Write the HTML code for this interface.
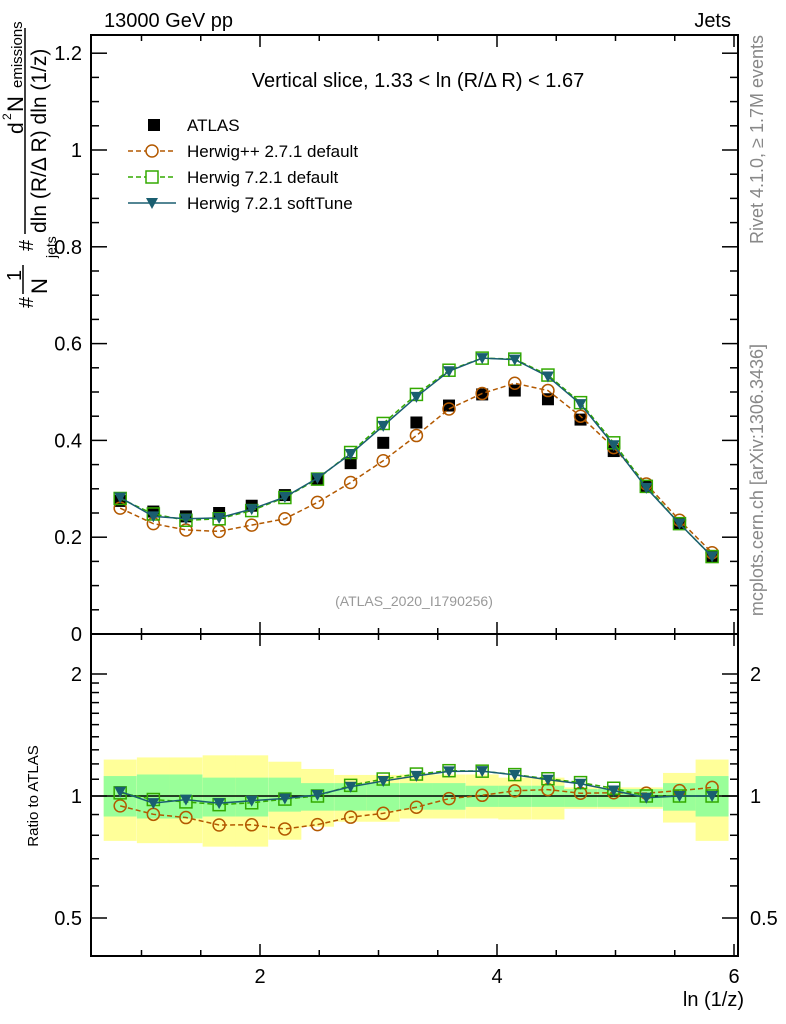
<!DOCTYPE html>
<html><head><meta charset="utf-8"><style>
body{margin:0;background:#fff}
svg{display:block;font-family:"Liberation Sans",sans-serif}
</style></head><body>
<svg id="c" width="786" height="1024"></svg>
<script>
const xs=[0.82,1.1,1.375,1.655,1.93,2.21,2.485,2.765,3.04,3.32,3.595,3.875,4.15,4.43,4.705,4.985,5.26,5.54,5.815];
const atlas=[0.275,0.253,0.243,0.25,0.265,0.287,0.32,0.353,0.395,0.437,0.472,0.495,0.503,0.485,0.443,0.378,0.305,0.228,0.16];
const hpp=[0.26,0.228,0.215,0.212,0.225,0.238,0.272,0.313,0.358,0.41,0.465,0.497,0.518,0.503,0.45,0.385,0.31,0.235,0.168];
const h7def=[0.28,0.248,0.235,0.238,0.255,0.282,0.32,0.375,0.435,0.495,0.545,0.57,0.568,0.535,0.478,0.395,0.305,0.228,0.16];
const h7soft=[0.282,0.243,0.238,0.24,0.258,0.283,0.322,0.372,0.43,0.49,0.543,0.57,0.567,0.532,0.475,0.39,0.302,0.228,0.16];
const yelUp=[1.23,1.245,1.245,1.26,1.26,1.215,1.166,1.127,1.127,1.13,1.13,1.13,1.11,1.11,1.05,1.05,1.05,1.14,1.23];
const yelDn=[0.775,0.765,0.765,0.75,0.75,0.78,0.84,0.864,0.864,0.88,0.88,0.88,0.875,0.875,0.93,0.93,0.93,0.86,0.775];
const grnUp=[1.12,1.13,1.13,1.11,1.11,1.11,1.076,1.076,1.076,1.076,1.076,1.06,1.06,1.06,1.04,1.04,1.04,1.076,1.12];
const grnDn=[0.89,0.88,0.88,0.89,0.89,0.915,0.92,0.92,0.92,0.925,0.925,0.94,0.94,0.94,0.94,0.94,0.94,0.92,0.89];
const mainTicks=[0,0.2,0.4,0.6,0.8,1,1.2];
const mainTickLabels=["0","0.2","0.4","0.6","0.8","1","1.2"];
const xTicks=[2,4,6];
const ratioTicks=[0.5,1,2];
const ratioTickLabels=["0.5","1","2"];
const binW=0.278;

const L=91,R=738,T=35,MB=634,RB=956;
const X=v=>23+(v)*118.5;
const Y=v=>634-v*484;
const YR=v=>796-Math.log2(v)*122;
const NS="http://www.w3.org/2000/svg";
const svg=document.getElementById('c');
function el(tag,attrs,parent){const e=document.createElementNS(NS,tag);for(const k in attrs)e.setAttribute(k,attrs[k]);(parent||svg).appendChild(e);return e;}
function txt(s,x,y,attrs,parent){const e=el('text',Object.assign({x:x,y:y,'font-size':18,fill:'#000'},attrs||{}),parent);e.textContent=s;return e;}

// bands
const bands=el('g',{});


xs.forEach((x,i)=>{
  const x0=X(x-binW/2),x1=X(x+binW/2);
  const yb=el('rect',{x:x0,y:YR(yelUp[i]),width:x1-x0,height:YR(yelDn[i])-YR(yelUp[i]),fill:'#ffff99'},bands);
  
  
  const gb=el('rect',{x:x0,y:YR(grnUp[i]),width:x1-x0,height:YR(grnDn[i])-YR(grnUp[i]),fill:'#99ff99'},bands);
  
  
});
el('line',{x1:L,x2:R,y1:YR(1),y2:YR(1),stroke:'#000','stroke-width':1.5});

// frames
el('rect',{x:L,y:T,width:R-L,height:MB-T,fill:'none',stroke:'#000','stroke-width':2});
el('rect',{x:L,y:MB,width:R-L,height:RB-MB,fill:'none',stroke:'#000','stroke-width':2});

// x ticks
for(let v=1;v<=6;v+=0.5){const px=X(v);if(px<L||px>R)continue;const big=v%2==0;const len=big?12:6;
 [[T,1],[MB,-1],[MB,1],[RB,-1]].forEach(([y,d])=>el('line',{x1:px,x2:px,y1:y,y2:y+d*len,stroke:'#000','stroke-width':1.5}));}
xTicks.forEach(v=>{const t=txt(String(v),X(v),983,{'text-anchor':'middle','font-size':20});});
// main y ticks
for(let i=0;i<=25;i++){const v=i*0.05;const py=Y(v);if(py<T)continue;const big=i%4==0;const len=big?16:8;
 el('line',{x1:L,x2:L+len,y1:py,y2:py,stroke:'#000','stroke-width':1.5});el('line',{x1:R,x2:R-len,y1:py,y2:py,stroke:'#000','stroke-width':1.5});}
mainTicks.forEach((v,i)=>{const t=txt(mainTickLabels[i],82,Y(v)+7,{'text-anchor':'end','font-size':20});});
// ratio ticks
[0.5,0.6,0.7,0.8,0.9,1,1.1,1.2,1.3,1.4,1.5,1.6,1.7,1.8,1.9,2].forEach(v=>{const py=YR(v);const big=ratioTicks.includes(v);const len=big?16:8;
 el('line',{x1:L,x2:L+len,y1:py,y2:py,stroke:'#000','stroke-width':1.5});el('line',{x1:R,x2:R-len,y1:py,y2:py,stroke:'#000','stroke-width':1.5});});
ratioTicks.forEach((v,i)=>{txt(ratioTickLabels[i],82,YR(v)+7,{'text-anchor':'end','font-size':20});txt(ratioTickLabels[i],750,YR(v)+7,{'font-size':20});});

// series
function series(vals,color,dash,marker,name,ratio){
 const g=el('g',{});
 const yf=ratio?(i=>YR(vals[i]/atlas[i])):(i=>Y(vals[i]));
 if(color){el('polyline',{points:xs.map((x,i)=>X(x)+','+yf(i)).join(' '),fill:'none',stroke:color,'stroke-width':1.5,'stroke-dasharray':dash||'none'},g);}
 xs.forEach((x,i)=>{const px=X(x),py=yf(i);let m;
  if(marker=='sq')m=el('rect',{x:px-6,y:py-6,width:12,height:12,fill:'#000'},g);
  else if(marker=='circ')m=el('circle',{cx:px,cy:py,r:6,fill:'none',stroke:color,'stroke-width':1.5},g);
  else if(marker=='osq')m=el('rect',{x:px-6,y:py-6,width:12,height:12,fill:'none',stroke:color,'stroke-width':1.5},g);
  else m=el('polygon',{points:`${px-6},${py-5} ${px+6},${py-5} ${px},${py+6}`,fill:color},g);
  });
}
series(atlas,null,null,'sq','atlas-data',false);
series(hpp,'#b35900','5,3','circ','herwigpp-271-default',false);
series(h7def,'#33aa00','5,3','osq','herwig-721-default',false);
series(h7soft,'#1a5e70',null,'tri','herwig-721-softtune',false);
series(hpp,'#b35900','5,3','circ','ratio-herwigpp',true);
series(h7def,'#33aa00','5,3','osq','ratio-herwig721-default',true);
series(h7soft,'#1a5e70',null,'tri','ratio-herwig721-softtune',true);

// legend
const lg=el('g',{});
const ly=[125,151,177,203],lab=["ATLAS","Herwig++ 2.7.1 default","Herwig 7.2.1 default","Herwig 7.2.1 softTune"];
el('rect',{x:148,y:ly[0]-6,width:12,height:12,fill:'#000'},lg);
el('line',{x1:128,x2:176,y1:ly[1],y2:ly[1],stroke:'#b35900','stroke-width':1.5,'stroke-dasharray':'5,3'},lg);el('circle',{cx:152,cy:ly[1],r:6,fill:'#fff',stroke:'#b35900','stroke-width':1.5},lg);
el('line',{x1:128,x2:176,y1:ly[2],y2:ly[2],stroke:'#33aa00','stroke-width':1.5,'stroke-dasharray':'5,3'},lg);el('rect',{x:146,y:ly[2]-6,width:12,height:12,fill:'#fff',stroke:'#33aa00','stroke-width':1.5},lg);
el('line',{x1:128,x2:176,y1:ly[3],y2:ly[3],stroke:'#1a5e70','stroke-width':1.5},lg);el('polygon',{points:`146,${ly[3]-5} 158,${ly[3]-5} 152,${ly[3]+6}`,fill:'#1a5e70'},lg);
lab.forEach((s,i)=>{txt(s,187,ly[i]+6,{'font-size':17},lg);});

// texts
let t;
t=txt('13000 GeV pp',104,27,{'font-size':20});
t=txt('Jets',731,27,{'font-size':20,'text-anchor':'end'});
t=txt('Vertical slice, 1.33 < ln (R/Δ R) < 1.67',418,87,{'font-size':20,'text-anchor':'middle'});
t=txt('(ATLAS_2020_I1790256)',414,606,{'font-size':14,'text-anchor':'middle',fill:'#999'});
t=txt('ln (1/z)',744,1006,{'font-size':20,'text-anchor':'end'});
t=txt('Ratio to ATLAS',0,0,{'font-size':15,'text-anchor':'middle',transform:'translate(38,796) rotate(-90)'});
t=txt('Rivet 4.1.0, ≥ 1.7M events',0,0,{'font-size':18,fill:'#888','text-anchor':'end',transform:'translate(763,35) rotate(-90)'});
t=txt('mcplots.cern.ch [arXiv:1306.3436]',0,0,{'font-size':18,fill:'#888','text-anchor':'end',transform:'translate(763,344) rotate(-90)'});
// y axis title
const yt=el('g',{});
function rt(s,bx,by,fs){txt(s,0,0,{'font-size':fs,transform:`translate(${bx},${by}) rotate(-90)`},yt);}
rt('#',33,308,20);
rt('1',21,281,20);
el('line',{x1:23,x2:23,y1:265,y2:294,stroke:'#000','stroke-width':1.5},yt);
rt('N',47,294,22);
rt('jets',56,258,14);
rt('#',33,251,20);
el('line',{x1:25,x2:25,y1:28,y2:234,stroke:'#000','stroke-width':1.5},yt);
rt('d',23,134,21);
rt('2',11,120,12);
rt('N',23,112,22);
rt('emissions',22,88,15);
rt('dln (R/Δ R) dln (1/z)',46,233,21);
</script>
</body></html>
